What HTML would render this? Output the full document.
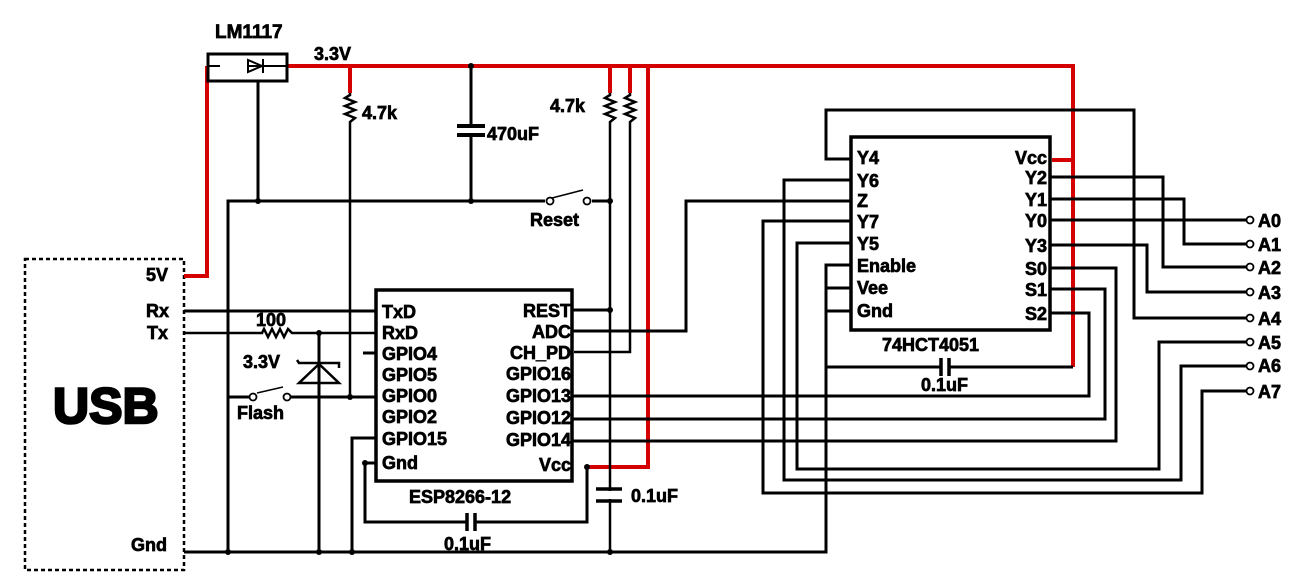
<!DOCTYPE html>
<html><head><meta charset="utf-8"><style>
html,body{margin:0;padding:0;background:#fff;}
svg{display:block;}
text{font-family:"Liberation Sans",Arial,sans-serif;font-weight:bold;fill:#000;stroke:#000;stroke-width:0.7px;}
</style></head><body>
<svg width="1315" height="584" viewBox="0 0 1315 584" xmlns="http://www.w3.org/2000/svg">
<g fill="none" stroke="#000" stroke-width="3">
<rect x="25" y="259" width="159" height="311" stroke-dasharray="4,3" stroke-width="2.5"/>
<g stroke="#d40000" stroke-width="4">
<polyline points="184,276 207,276 207,66"/>
<polyline points="287,66 1073,66 1073,367"/>
<line x1="1052" y1="160" x2="1073" y2="160"/>
<polyline points="350,66 350,93"/>
<polyline points="610,66 610,93"/>
<polyline points="630,66 630,93"/>
<polyline points="648,66 648,467 585,467"/>
</g>
<line x1="207" y1="66" x2="220" y2="66" stroke-width="2"/>
<line x1="248" y1="66" x2="287" y2="66" stroke-width="2"/>
<rect x="208" y="54" width="79" height="27" stroke-width="3"/>
<polygon points="248,60 248,72 262,66" stroke-width="2"/>
<line x1="263" y1="59" x2="263" y2="73" stroke-width="2"/>
<line x1="258" y1="81" x2="258" y2="201"/>
<polyline points="228,551 228,201 545,201"/>
<line x1="552" y1="198" x2="583" y2="190" stroke-width="1.5"/>
<line x1="592" y1="201" x2="610" y2="201"/>
<polyline points="350,93 350,95 345,98 355,102 345,106 355,110 345,114 355,118 350,122 350,397" stroke-width="2.5"/>
<polyline points="610,93 610,95 605,98 615,102 605,106 615,110 605,114 615,118 610,122 610,551" stroke-width="2.5"/>
<polyline points="630,93 630,95 625,98 635,102 625,106 635,110 625,114 635,118 630,122 630,352 574,352" stroke-width="2.5"/>
<line x1="471" y1="66" x2="471" y2="126"/>
<line x1="457" y1="126" x2="485" y2="126" stroke-width="4"/>
<line x1="457" y1="135" x2="485" y2="135" stroke-width="4"/>
<line x1="471" y1="135" x2="471" y2="201"/>
<rect x="376" y="290" width="196" height="191" stroke-width="3.5"/>
<line x1="184" y1="311" x2="376" y2="311"/>
<polyline points="184,333 262,333 264,329 268,337 272,329 276,337 280,329 284,337 288,329 292,333 376,333" stroke-width="2.5"/>
<line x1="363" y1="353" x2="376" y2="353"/>
<line x1="319" y1="333" x2="319" y2="551"/>
<polyline points="297,360 299,363 339,363 339,368" stroke-width="2.5"/>
<polygon points="319,364 299,383 339,383" stroke-width="2.5"/>
<line x1="228" y1="397" x2="250" y2="397"/>
<line x1="257" y1="393" x2="283" y2="387" stroke-width="1.5"/>
<line x1="290" y1="397" x2="376" y2="397"/>
<polyline points="376,438 352,438 352,551"/>
<polyline points="376,463 365,463 365,522 467,522"/>
<line x1="467" y1="513" x2="467" y2="531" stroke-width="3.5"/>
<line x1="475" y1="513" x2="475" y2="531" stroke-width="3.5"/>
<polyline points="475,522 587,522 587,467"/>
<line x1="572" y1="310" x2="610" y2="310"/>
<line x1="596" y1="489" x2="622" y2="489" stroke-width="3.5"/>
<line x1="596" y1="501" x2="622" y2="501" stroke-width="3.5"/>
<line x1="610" y1="491" x2="610" y2="499" stroke="#fff" stroke-width="4"/>
<polyline points="184,552 826,552 826,265 852,265"/>
<line x1="826" y1="288" x2="852" y2="288"/>
<line x1="826" y1="311" x2="852" y2="311"/>
<polyline points="826,367 940,367"/>
<line x1="941" y1="358" x2="941" y2="376" stroke-width="3.5"/>
<line x1="949" y1="358" x2="949" y2="376" stroke-width="3.5"/>
<line x1="949" y1="367" x2="1073" y2="367"/>
<polyline points="572,331 686,331 686,201 852,201"/>
<rect x="851" y="137" width="199" height="193" stroke-width="3.5"/>
<polyline points="852,159 826,159 826,110 1134,110 1134,318 1246,318"/>
<polyline points="1050,177 1163,177 1163,267 1246,267"/>
<polyline points="1050,199 1184,199 1184,244 1246,244"/>
<line x1="1050" y1="220" x2="1246" y2="220"/>
<polyline points="1050,245 1147,245 1147,292 1246,292"/>
<polyline points="1050,268 1116,268 1116,441 572,441"/>
<polyline points="1050,289 1105,289 1105,419 572,419"/>
<polyline points="1050,313 1089,313 1089,396 572,396"/>
<polyline points="852,243 797,243 797,469 1159,469 1159,342 1246,342"/>
<polyline points="852,180 784,180 784,480 1181,480 1181,366 1246,366"/>
<polyline points="852,221 763,221 763,493 1202,493 1202,391 1246,391"/>
</g>
<g fill="#fff" stroke="#000" stroke-width="1.8">
<circle cx="1250" cy="220" r="3.5"/><circle cx="1250" cy="244" r="3.5"/><circle cx="1250" cy="267" r="3.5"/><circle cx="1250" cy="292" r="3.5"/>
<circle cx="1250" cy="318" r="3.5"/><circle cx="1250" cy="342" r="3.5"/><circle cx="1250" cy="366" r="3.5"/><circle cx="1250" cy="391" r="3.5"/>
<circle cx="550" cy="201" r="3.5"/><circle cx="587" cy="201" r="3.5"/>
<circle cx="253" cy="397" r="3.5"/><circle cx="287" cy="397" r="3.5"/>
</g>
<g fill="#000">
<circle cx="258" cy="201" r="3"/><circle cx="471" cy="201" r="3"/><circle cx="471" cy="66" r="3"/><circle cx="610" cy="201" r="3"/><circle cx="610" cy="310" r="3"/>
<circle cx="319" cy="333" r="3"/><circle cx="350" cy="397" r="3"/><circle cx="365" cy="463" r="3"/><circle cx="587" cy="467" r="3"/>
<circle cx="228" cy="552" r="3"/><circle cx="319" cy="552" r="3"/><circle cx="352" cy="552" r="3"/><circle cx="610" cy="552" r="3"/>
</g>
<text x="53" y="423" font-size="50" style="stroke-width:2.5px">USB</text>
<g font-size="18">
<text x="146" y="281">5V</text><text x="146" y="317">Rx</text><text x="147" y="339">Tx</text><text x="131" y="551">Gnd</text>
<text x="215" y="38" font-size="19">LM1117</text><text x="314" y="60">3.3V</text>
<text x="362" y="119">4.7k</text><text x="487" y="140">470uF</text><text x="550" y="112">4.7k</text>
<text x="530" y="226">Reset</text><text x="256" y="326">100</text><text x="243" y="368">3.3V</text><text x="237" y="419">Flash</text>
<text x="382" y="318">TxD</text><text x="382" y="339">RxD</text><text x="382" y="360">GPIO4</text><text x="382" y="381">GPIO5</text>
<text x="382" y="402">GPIO0</text><text x="382" y="423">GPIO2</text><text x="382" y="445">GPIO15</text><text x="382" y="469">Gnd</text>
<g text-anchor="end"><text x="571" y="317">REST</text><text x="571" y="338">ADC</text><text x="571" y="359">CH_PD</text><text x="571" y="380">GPIO16</text>
<text x="571" y="402">GPIO13</text><text x="571" y="424">GPIO12</text><text x="571" y="446">GPIO14</text><text x="571" y="471">Vcc</text></g>
<text x="409" y="503">ESP8266-12</text><text x="444" y="550">0.1uF</text><text x="631" y="502">0.1uF</text>
<text x="857" y="164">Y4</text><text x="857" y="187">Y6</text><text x="857" y="207">Z</text><text x="857" y="228">Y7</text>
<text x="857" y="250">Y5</text><text x="857" y="272">Enable</text><text x="857" y="294">Vee</text><text x="857" y="317">Gnd</text>
<g text-anchor="end"><text x="1047" y="164">Vcc</text><text x="1047" y="184">Y2</text><text x="1047" y="206">Y1</text><text x="1047" y="227">Y0</text>
<text x="1047" y="252">Y3</text><text x="1047" y="275">S0</text><text x="1047" y="296">S1</text><text x="1047" y="320">S2</text></g>
<text x="882" y="351">74HCT4051</text><text x="921" y="391">0.1uF</text>
<text x="1258" y="227">A0</text><text x="1258" y="251">A1</text><text x="1258" y="274">A2</text><text x="1258" y="299">A3</text>
<text x="1258" y="325">A4</text><text x="1258" y="349">A5</text><text x="1258" y="372">A6</text><text x="1258" y="398">A7</text>
</g>
</svg>
</body></html>
